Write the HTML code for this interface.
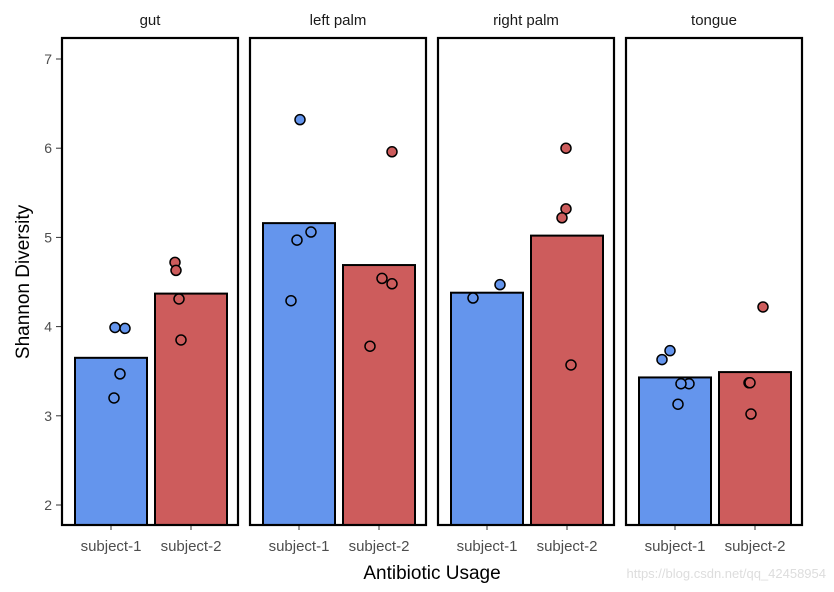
<!DOCTYPE html>
<html><head><meta charset="utf-8"><style>
body{margin:0;background:#fff;}
svg{display:block;font-family:"Liberation Sans",sans-serif;}
</style></head><body>
<svg id="chart" width="834" height="592"></svg>
<script>
const panels=["gut","left palm","right palm","tongue"];
const subjects=["subject-1","subject-2"];
const barMeans=[[3.65,4.37],[5.16,4.69],[4.38,5.02],[3.43,3.49]];
const pointValues=[
 [[3.99,3.98,3.47,3.2],[4.72,4.63,4.31,3.85]],
 [[6.32,5.06,4.97,4.29],[5.96,4.54,4.48,3.78]],
 [[4.47,4.32],[6.0,5.32,5.22,3.57]],
 [[3.73,3.63,3.36,3.36,3.13],[4.22,3.37,3.37,3.02]]
];
const pointJitter=[
 [[4,14,9,3],[-16,-15,-12,-10]],
 [[1,12,-2,-8],[13,3,13,-9]],
 [[13,-14],[-1,-1,-5,4]],
 [[-5,-13,14,6,3],[8,-6,-5,-4]]
];
const yTicks=[2,3,4,5,6,7];
const colors=["#6495ED","#CD5C5C"];
const NS="http://www.w3.org/2000/svg";
const svg=document.getElementById("chart");
function el(t,a,p){const e=document.createElementNS(NS,t);for(const k in a)e.setAttribute(k,a[k]);(p||svg).appendChild(e);return e;}
const yTop=38,yBot=525;
function y(v){return 505-(v-2)*89.2;}
const panelX0=62,panelW=176,panelGap=12;
function px(i){return panelX0+i*(panelW+panelGap);}
function bx(i,j){return px(i)+13+j*80;}
yTicks.forEach(t=>{
 const l=el("line",{x1:56,x2:62,y1:y(t),y2:y(t),stroke:"#333","stroke-width":1});
 
 
 const tx=el("text",{x:52,y:y(t)+5,"text-anchor":"end","font-size":14,fill:"#4d4d4d"});
 tx.textContent=t;
 
 
});
panels.forEach((p,i)=>{
 const g=el("g",{});
 
 
 const st=el("text",{x:px(i)+panelW/2,y:25,"text-anchor":"middle","font-size":15,fill:"#1a1a1a"},g);
 st.textContent=p;
 
 
 subjects.forEach((s,j)=>{
  const r=el("rect",{x:bx(i,j),y:y(barMeans[i][j]),width:72,height:yBot-y(barMeans[i][j]),fill:colors[j],stroke:"#000","stroke-width":2},g);
  
  
  const c=bx(i,j)+36;
  el("line",{x1:c,x2:c,y1:yBot,y2:yBot+5,stroke:"#333"},g);
  const tl=el("text",{x:c,y:551,"text-anchor":"middle","font-size":15,fill:"#4d4d4d"},g);
  tl.textContent=s;
  
  
 });
 subjects.forEach((s,j)=>{
  const c=bx(i,j)+36;
  pointValues[i][j].forEach((v,k)=>{
   const pt=el("circle",{cx:c+pointJitter[i][j][k],cy:y(v),r:5,fill:colors[j],stroke:"#000","stroke-width":1.5},g);
   
   
  });
 });
 const fr=el("rect",{x:px(i),y:yTop,width:panelW,height:yBot-yTop,fill:"none",stroke:"#000","stroke-width":2.2},g);
 
 
});
const xt=el("text",{x:432,y:579,"text-anchor":"middle","font-size":19,fill:"#000"});
xt.textContent="Antibiotic Usage";


const yt=el("text",{x:0,y:0,"text-anchor":"middle","font-size":19,fill:"#000",transform:"translate(29,282) rotate(-90)"});
yt.textContent="Shannon Diversity";


const wm=el("text",{x:826,y:578,"text-anchor":"end","font-size":13,fill:"#ddd"});
wm.textContent="https://blog.csdn.net/qq_42458954";


</script>
</body></html>
